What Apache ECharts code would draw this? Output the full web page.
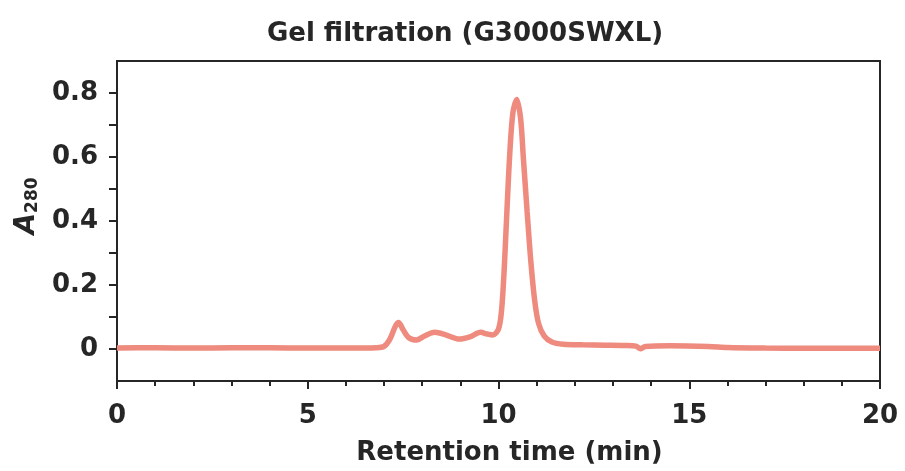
<!DOCTYPE html>
<html>
<head>
<meta charset="utf-8">
<script src="https://cdn.jsdelivr.net/npm/echarts@6/dist/echarts.min.js"></script>
<style>
  html, body { margin: 0; padding: 0; background: #fff; }
  #chart { width: 905px; height: 471px; }
</style>
</head>
<body>
<div id="chart"></div>
<script>
// retention time (min) and absorbance
const timeMin = [0, 1, 2, 3, 4, 5, 6, 6.8, 7.0, 7.15, 7.3, 7.38, 7.5, 7.65, 7.85, 8.05, 8.33, 8.6, 8.97, 9.25, 9.53, 9.7, 9.85, 10.0, 10.08, 10.15, 10.22, 10.3, 10.38, 10.48, 10.58, 10.65, 10.75, 10.85, 10.95, 11.05, 11.2, 11.4, 11.7, 12.2, 12.8, 13.3, 13.6, 13.72, 13.85, 14.5, 15.5, 16, 17, 18, 19, 20];
const a280 = [0.003, 0.004, 0.003, 0.004, 0.004, 0.003, 0.003, 0.004, 0.008, 0.03, 0.072, 0.083, 0.06, 0.035, 0.028, 0.04, 0.052, 0.045, 0.031, 0.038, 0.052, 0.047, 0.044, 0.062, 0.12, 0.25, 0.43, 0.62, 0.74, 0.78, 0.72, 0.6, 0.43, 0.27, 0.15, 0.08, 0.04, 0.022, 0.015, 0.013, 0.012, 0.011, 0.009, 0.001, 0.008, 0.01, 0.008, 0.005, 0.003, 0.002, 0.002, 0.002];

const yLabelValues = [0, 0.2, 0.4, 0.6, 0.8];
const yTickValues = [0, 0.1, 0.2, 0.3, 0.4, 0.5, 0.6, 0.7, 0.8];

const ink = '#262626';
const font = 'DejaVu Sans';

const myChart = echarts.init(document.getElementById('chart'));

const points = timeMin.map((t, i) => [t, a280[i]]);

const option = {
  animation: false,
  backgroundColor: '#fff',
  title: {
    text: 'Gel filtration (G3000SWXL)',
    left: 460,
    top: 16,
    textAlign: 'center',
    textStyle: { fontFamily: font, fontWeight: 'bold', fontSize: 26, color: ink }
  },
  grid: {
    left: 117,
    right: 25,
    top: 61,
    bottom: 88,
    show: true,
    borderColor: ink,
    borderWidth: 2,
    backgroundColor: 'transparent'
  },
  xAxis: {
    type: 'value',
    min: 0,
    max: 20,
    interval: 5,
    name: 'Retention time (min)',
    nameLocation: 'middle',
    nameGap: 59,
    nameTextStyle: { fontFamily: font, fontWeight: 'bold', fontSize: 26, color: ink, padding: [0, 0, 0, 22] },
    axisLine: { show: true, onZero: false, lineStyle: { color: ink, width: 2 } },
    axisTick: { show: true, length: 8, lineStyle: { color: ink, width: 2 } },
    minorTick: { show: true, splitNumber: 5, length: 5, lineStyle: { color: ink, width: 2 } },
    axisLabel: { fontFamily: font, fontWeight: 'bold', fontSize: 26, color: ink, margin: 22 },
    splitLine: { show: false }
  },
  yAxis: {
    type: 'value',
    min: -0.1,
    max: 0.9,
    name: '{a|A}{s|280}',
    nameLocation: 'middle',
    nameRotate: 90,
    nameGap: 74,
    nameTextStyle: {
      padding: [0, 0, 0, 30],
      rich: {
        a: { fontFamily: font, fontWeight: 'bold', fontStyle: 'italic', fontSize: 28, color: ink },
        s: { fontFamily: font, fontWeight: 'bold', fontSize: 17, color: ink, padding: [12, 0, 0, 0] }
      }
    },
    axisLine: { show: true, onZero: false, lineStyle: { color: ink, width: 2 } },
    axisTick: { show: true, length: 8, customValues: yTickValues, lineStyle: { color: ink, width: 2 } },
    axisLabel: {
      fontFamily: font, fontWeight: 'bold', fontSize: 26, color: ink, margin: 19,
      customValues: yLabelValues,
      formatter: v => String(v)
    },
    splitLine: { show: false }
  },
  series: [
    {
      name: 'A280',
      type: 'line',
      data: points,
      smooth: 0.3,
      showSymbol: false,
      lineStyle: { color: '#EE8A7E', width: 5.5 },
      z: 3
    }
  ]
};

myChart.setOption(option);
</script>
</body>
</html>
